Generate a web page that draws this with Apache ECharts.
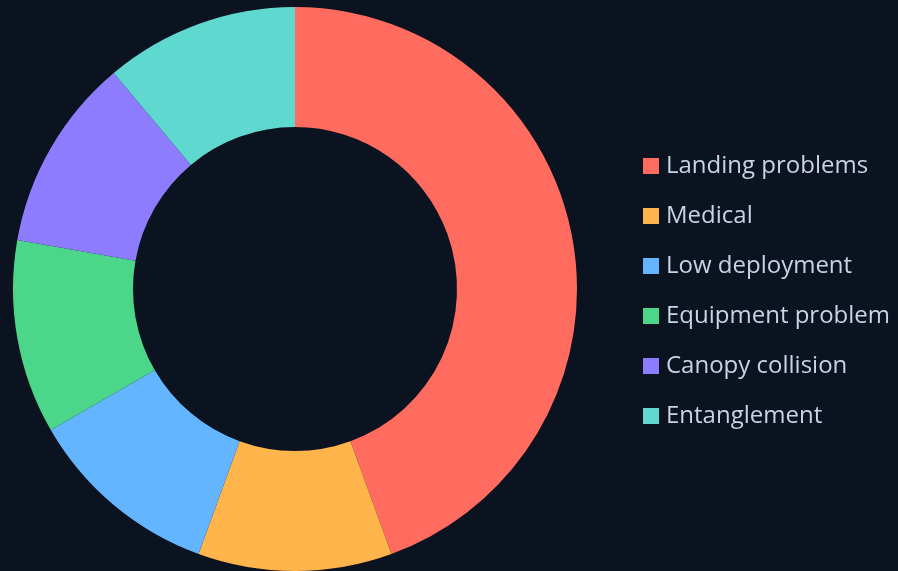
<!DOCTYPE html>
<html><head><meta charset="utf-8">
<script src="https://cdn.jsdelivr.net/npm/echarts@6/dist/echarts.min.js"></script>
<style>html,body{margin:0;padding:0;background:#0b1320;}#c{width:898px;height:571px;}</style>
</head><body><div id="c"></div>
<script>
const categories = ["Landing problems","Medical","Low deployment","Equipment problem","Canopy collision","Entanglement"];
const values = [4,1,1,1,1,1];
const colors = ["#ff6b5e","#ffb44c","#64b5ff","#4cd68a","#8e7cff","#5fd8d0"];
const chart = echarts.init(document.getElementById('c'));
chart.setOption({
  backgroundColor:'#0b1320',
  color: colors,
  animation:false,
  legend:{
    orient:'vertical', left:643, top:154, padding:0,
    itemWidth:16, itemHeight:16, itemGap:26,
    icon:'rect',
    textStyle:{color:'#c8d3e6', fontSize:24, lineHeight:24, fontFamily:'Open Sans', padding:[0,0,0,2]},
    data: categories
  },
  series:[{
    type:'pie', center:[295,289], radius:[162,282],
    startAngle:90, clockwise:true,
    label:{show:false}, labelLine:{show:false},
    itemStyle:{borderWidth:0},
    data: categories.map((n,i)=>({name:n,value:values[i]}))
  }]
});
</script></body></html>
